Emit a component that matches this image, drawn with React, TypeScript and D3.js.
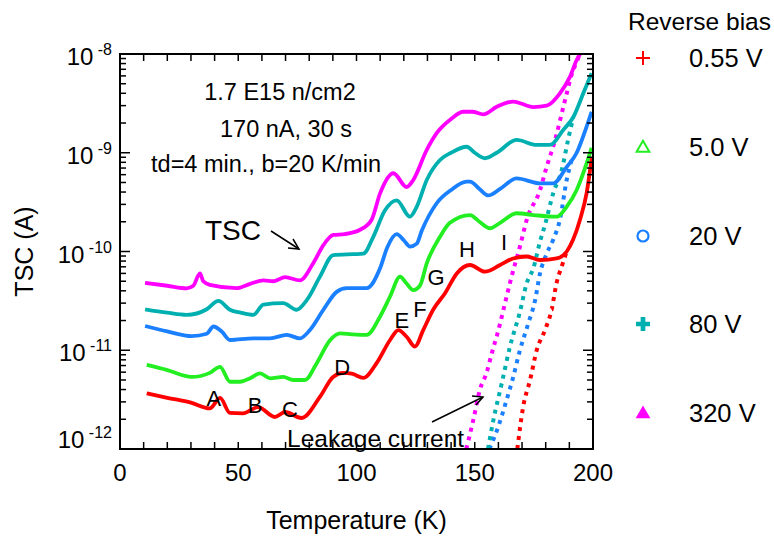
import React from "react";
import * as d3 from "d3";

// ---------- data (temperature in K, current in A) ----------
const biasLabels = ["0.55 V", "5.0 V", "20 V", "80 V", "320 V"];
const biasColors = ["#ff0000", "#22ee22", "#1a80ff", "#00b0b0", "#ff00ff"];

const redT = [11.3, 20, 30, 38, 42.3, 46.5, 52, 58.4, 65.5, 69.8, 76.8, 84.6, 90.1, 94.4, 98, 102.9, 108.5, 114.2, 117.7, 121.2, 124.7, 128.2, 132.4, 137.5, 142.4, 148, 154.3, 160.7, 166.2, 172, 177.6, 184.6, 188.9, 191.6, 194.5, 197.3, 199.5];
const redI = [3.66e-12, 3.3e-12, 2.95e-12, 2.58e-12, 3.29e-12, 2.32e-12, 2.3e-12, 2.66e-12, 2.11e-12, 2.37e-12, 2.06e-12, 3.39e-12, 5.37e-12, 5.9e-12, 5.8e-12, 5.25e-12, 7.4e-12, 1.27e-11, 1.6e-11, 1.37e-11, 1.09e-11, 1.6e-11, 2.57e-11, 3.8e-11, 6.0e-11, 7.3e-11, 6.25e-11, 7.3e-11, 8.5e-11, 8.9e-11, 8.2e-11, 8.5e-11, 1.0e-10, 1.32e-10, 2.1e-10, 3.9e-10, 9.0e-10];

const greenT = [11.3, 20, 30.3, 38, 42.3, 46.5, 50.7, 55, 59.2, 63.4, 69, 73.3, 78.2, 83.2, 88.8, 93, 98, 104.3, 110, 114.2, 118.4, 121, 124, 126.8, 129.7, 135.3, 139.5, 148, 152, 156.4, 160.7, 167.7, 174.8, 184.6, 188.9, 193.1, 197.3, 199.4];
const greenI = [7.1e-12, 6.3e-12, 5.37e-12, 5.9e-12, 6.8e-12, 4.8e-12, 4.8e-12, 5.2e-12, 5.83e-12, 5.2e-12, 5.37e-12, 5.0e-12, 5.0e-12, 7.4e-12, 1.26e-11, 1.48e-11, 1.45e-11, 1.43e-11, 2.2e-11, 3.5e-11, 5.56e-11, 4.8e-11, 4.07e-11, 4.5e-11, 7.6e-11, 1.41e-10, 1.95e-10, 2.34e-10, 2.0e-10, 1.72e-10, 1.95e-10, 2.44e-10, 2.34e-10, 2.25e-10, 2.85e-10, 4.2e-10, 7.8e-10, 1.12e-9];

const blueT = [10.6, 20, 30.3, 36.7, 39.5, 43, 46.5, 56.4, 63.4, 70.5, 76.1, 80.3, 86, 91.6, 95.9, 104.3, 110, 113, 117, 120, 122.6, 125.5, 127.5, 133.9, 140, 146.6, 148, 152, 155.7, 160.7, 167.7, 177.6, 183.2, 188.9, 193.1, 197.3, 199.4];
const blueI = [1.76e-11, 1.55e-11, 1.39e-11, 1.47e-11, 1.74e-11, 1.55e-11, 1.27e-11, 1.32e-11, 1.32e-11, 1.43e-11, 1.32e-11, 1.6e-11, 2.57e-11, 3.9e-11, 4.26e-11, 4.26e-11, 6.8e-11, 1.1e-10, 1.5e-10, 1.3e-10, 1.12e-10, 1.2e-10, 1.6e-10, 3.08e-10, 4.2e-10, 5.1e-10, 5.1e-10, 4.3e-10, 3.7e-10, 4.3e-10, 5.5e-10, 4.9e-10, 4.9e-10, 7.2e-10, 1.0e-9, 1.84e-9, 2.6e-9];

const cyanT = [10.6, 20, 28.2, 36.7, 41.6, 46.5, 51, 56.4, 60.6, 69, 74.7, 78.9, 84.6, 90.2, 98.7, 102.9, 107.1, 112, 117, 122.6, 125.5, 129.7, 135.3, 140, 146.6, 150, 154.3, 159.3, 167.7, 176.2, 181.8, 187.4, 191.7, 195.9, 199.4];
const cyanI = [2.6e-11, 2.4e-11, 2.28e-11, 2.6e-11, 3.16e-11, 2.57e-11, 2.4e-11, 2.28e-11, 2.9e-11, 3.0e-11, 2.57e-11, 3.2e-11, 5.6e-11, 9.2e-11, 9.4e-11, 9.5e-11, 1.41e-10, 2.6e-10, 3.3e-10, 2.25e-10, 2.85e-10, 5.3e-10, 8.45e-10, 1.0e-9, 1.15e-9, 1.0e-9, 8.8e-10, 1.0e-9, 1.35e-9, 1.2e-9, 1.2e-9, 1.7e-9, 2.3e-9, 4.0e-9, 6.4e-9];

const magentaT = [10.6, 20, 28.2, 31, 33.8, 35.2, 38, 49.3, 55, 60.6, 65, 69.8, 76.1, 81.7, 86, 90.2, 95, 101.5, 106.4, 110, 115.6, 121.2, 124, 129.7, 133.9, 140, 145.2, 149, 153.6, 159.3, 166.3, 174.8, 180.4, 186, 190.3, 193.1, 194.5];
const magentaI = [4.8e-11, 4.5e-11, 4.24e-11, 4.5e-11, 6.0e-11, 5.0e-11, 4.6e-11, 4.26e-11, 4.7e-11, 5.1e-11, 5.0e-11, 5.5e-11, 5.1e-11, 7.6e-11, 1.16e-10, 1.47e-10, 1.5e-10, 1.66e-10, 2.1e-10, 3.9e-10, 6.2e-10, 4.5e-10, 5.3e-10, 1.07e-9, 1.58e-9, 2.2e-9, 2.6e-9, 2.6e-9, 2.45e-9, 2.92e-9, 3.3e-9, 2.9e-9, 3.0e-9, 4.0e-9, 5.9e-9, 8.7e-9, 1.0e-8];

// leakage-current branches
const redLeakT = [168, 170.5, 173.4, 176.2, 179.7, 182.5, 184.6, 186.8, 188.9];
const redLeakI = [1.0e-12, 2.7e-12, 5.0e-12, 1.0e-11, 1.6e-11, 2.57e-11, 4.8e-11, 7.1e-11, 1.0e-10];
const blueLeakT = [156.2, 160, 163.5, 166.3, 169.1, 172.6, 175.5, 177.6, 180.4, 183.2, 186, 189, 191];
const blueLeakI = [1.0e-12, 1.7e-12, 3.16e-12, 5.4e-12, 1.0e-11, 1.86e-11, 3.2e-11, 6.0e-11, 9.5e-11, 1.32e-10, 2.1e-10, 5.5e-10, 8.5e-10];
const cyanLeakT = [155.6, 157.9, 161.4, 164.9, 169.1, 172, 174.8, 177.6, 179.7, 183.2, 186.8, 189.6, 191.7];
const cyanLeakI = [1.0e-12, 1.97e-12, 4.6e-12, 1.09e-11, 2.45e-11, 4.8e-11, 6.8e-11, 1.26e-10, 1.86e-10, 3.9e-10, 6.7e-10, 1.4e-9, 2.3e-9];
const magentaLeakT = [146.4, 149.4, 152.2, 155, 157.2, 160, 162.8, 165.6, 169.1, 172, 177.6, 180.4, 184, 186, 188.9, 191, 193.1, 194.5];
const magentaLeakI = [1.0e-12, 1.97e-12, 4.0e-12, 5.9e-12, 9.3e-12, 1.6e-11, 3.0e-11, 5.6e-11, 1.12e-10, 2.1e-10, 4.2e-10, 7.2e-10, 1.35e-9, 2.1e-9, 4.0e-9, 6.2e-9, 8.3e-9, 1.0e-8];

const xTicks = [0, 50, 100, 150, 200];
const yDecades = [-8, -9, -10, -11, -12];

const peakLabels = ["A", "B", "C", "D", "E", "F", "G", "H", "I"];
const peakT = [39.7, 57.1, 71.9, 93.9, 119.2, 126.8, 133.6, 146.7, 162.4];
const peakLogI = [-11.565, -11.635, -11.676, -11.25, -10.775, -10.663, -10.339, -10.056, -9.985];

const FONT = "'Liberation Sans', Arial, Helvetica, sans-serif";

export default function App() {
  const W = 774, H = 537;
  const left = 120, right = 593, top = 54, bottom = 449;
  const x = d3.scaleLinear().domain([0, 200]).range([left, right]);
  const y = d3.scaleLog().domain([1e-12, 1e-8]).range([bottom, top]);

  const line = d3.line<[number, number]>().x(d => x(d[0])).y(d => y(d[1])).curve(d3.curveMonotoneX);
  const zip = (a: number[], b: number[]) => a.map((v, i) => [v, b[i]] as [number, number]);

  const mains = [zip(redT, redI), zip(greenT, greenI), zip(blueT, blueI), zip(cyanT, cyanI), zip(magentaT, magentaI)];
  const leaks: [number, [number, number][]][] = [
    [0, zip(redLeakT, redLeakI)],
    [2, zip(blueLeakT, blueLeakI)],
    [3, zip(cyanLeakT, cyanLeakI)],
    [4, zip(magentaLeakT, magentaLeakI)],
  ];

  const minorX = d3.range(0, 201, 10);
  const minorY: number[] = [];
  for (let e = -12; e < -8; e++) for (let m = 1; m <= 9; m++) minorY.push(m * Math.pow(10, e));

  const legendY = [58, 147, 236, 324, 413];
  const legendMarker = (i: number) => {
    const c = biasColors[i];
    const cy = legendY[i], cx = 643;
    if (i === 0) return <g stroke={c} strokeWidth={2}><line x1={cx - 7} x2={cx + 7} y1={cy} y2={cy} /><line x1={cx} x2={cx} y1={cy - 7} y2={cy + 7} /></g>;
    if (i === 1) return <path d={d3.symbol(d3.symbolTriangle, 70)()!} transform={`translate(${cx},${cy + 1})`} fill="none" stroke={c} strokeWidth={2} />;
    if (i === 2) return <circle cx={cx} cy={cy} r={5.5} fill="none" stroke={c} strokeWidth={2.2} />;
    if (i === 3) return <path d={d3.symbol(d3.symbolCross, 110)()!} transform={`translate(${cx},${cy})`} fill={c} />;
    return <path d={d3.symbol(d3.symbolTriangle, 95)()!} transform={`translate(${cx},${cy + 1})`} fill={c} />;
  };

  return (
    <svg width={W} height={H} style={{ position: "absolute", left: 0, top: 0, background: "#fff" }} fontFamily={FONT}>
      <defs>
        <clipPath id="plot"><rect x={left} y={top} width={right - left} height={bottom - top} /></clipPath>
      </defs>

      {/* curves */}
      <g clipPath="url(#plot)">
        {leaks.map(([ci, pts]) => (
          <path key={"l" + ci} d={line(pts)!} fill="none" stroke={biasColors[ci]} strokeWidth={4} strokeDasharray="4 5" />
        ))}
        {mains.map((pts, i) => (
          <path key={"m" + i} d={line(pts)!} fill="none" stroke={biasColors[i]} strokeWidth={3.8} strokeLinejoin="round" />
        ))}
      </g>

      {/* frame */}
      <rect x={left} y={top} width={right - left} height={bottom - top} fill="none" stroke="#000" strokeWidth={2} />
      {/* x ticks */}
      {minorX.map(t => (
        <g key={"xt" + t} stroke="#000" strokeWidth={1.5}>
          <line x1={x(t)} x2={x(t)} y1={bottom} y2={bottom - 7} />
          <line x1={x(t)} x2={x(t)} y1={top} y2={top + 7} />
        </g>
      ))}
      {/* y ticks */}
      {minorY.map((v, i) => {
        const major = i % 9 === 0;
        const len = major ? 10 : 6;
        return (
          <g key={"yt" + i} stroke="#000" strokeWidth={1.5}>
            <line x1={left} x2={left + len} y1={y(v)} y2={y(v)} />
            <line x1={right} x2={right - len} y1={y(v)} y2={y(v)} />
          </g>
        );
      })}
      {xTicks.map(t => (
        <text key={"xl" + t} x={x(t)} y={481} fontSize={24} textAnchor="middle">{t}</text>
      ))}
      {yDecades.map(e => (
        <text key={"yl" + e} x={112} y={y(Math.pow(10, e)) + (e === -12 ? -1 : 11)} fontSize={24} textAnchor="end">
          10<tspan fontSize={16} dy={-10}>{" " + e}</tspan>
        </text>
      ))}
      <text x={(left + right) / 2} y={529} fontSize={25} textAnchor="middle">Temperature (K)</text>
      <text transform={`translate(33,${(top + bottom) / 2}) rotate(-90)`} fontSize={25} textAnchor="middle">TSC (A)</text>

      {/* annotations */}
      <text x={280} y={100} fontSize={23.5} textAnchor="middle">1.7 E15 n/cm2</text>
      <text x={286} y={137} fontSize={23.5} textAnchor="middle">170 nA, 30 s</text>
      <text x={266} y={172} fontSize={23.5} textAnchor="middle">td=4 min., b=20 K/min</text>
      <text x={205} y={240} fontSize={28}>TSC</text>
      <g stroke="#000" strokeWidth={1.5} fill="none">
        <line x1={271} y1={231} x2={299} y2={249} />
        <polyline points="288,248 299,249 293,239" />
      </g>
      <text x={287} y={447} fontSize={24.5}>Leakage current</text>
      <g stroke="#000" strokeWidth={1.5} fill="none">
        <line x1={432} y1={422} x2={483} y2={397} />
        <polyline points="472,396 483,397 476,405" />
      </g>
      {peakLabels.map((l, i) => (
        <text key={l} x={x(peakT[i])} y={y(Math.pow(10, peakLogI[i]))} fontSize={22} textAnchor="middle">{l}</text>
      ))}

      {/* legend */}
      <text x={628} y={30} fontSize={24.5}>Reverse bias</text>
      {biasLabels.map((l, i) => (
        <g key={l}>
          {legendMarker(i)}
          <text x={689} y={legendY[i] + 9} fontSize={25.5}>{l}</text>
        </g>
      ))}
    </svg>
  );
}
